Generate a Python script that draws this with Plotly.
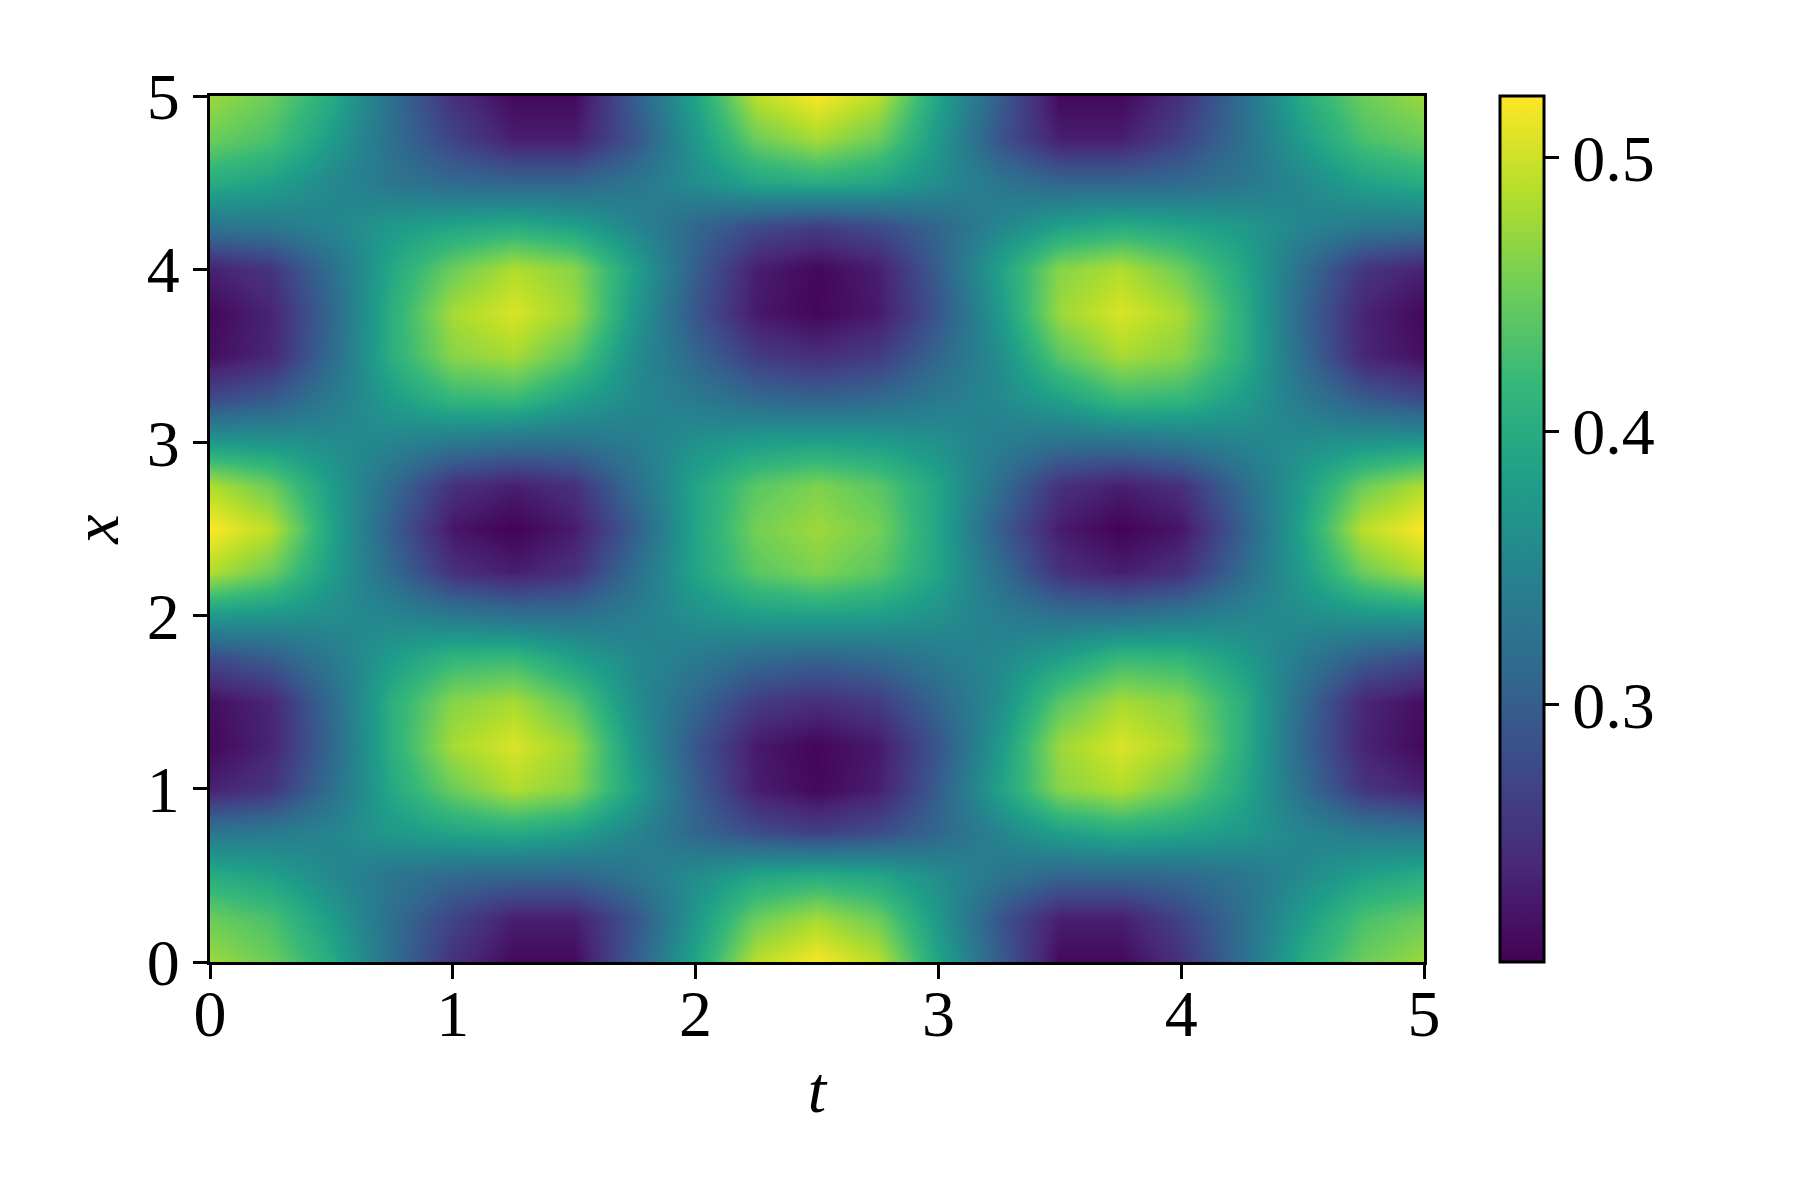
import plotly.graph_objects as go

t_values = [0, .25, .5, .75, 1, 1.25, 1.5, 1.75, 2, 2.25, 2.5, 2.75, 3, 3.25, 3.5, 3.75, 4, 4.25, 4.5, 4.75, 5]
x_values = [0, .25, .5, .75, 1, 1.25, 1.5, 1.75, 2, 2.25, 2.5, 2.75, 3, 3.25, 3.5, 3.75, 4, 4.25, 4.5, 4.75, 5]
tick_values = [0, 1, 2, 3, 4, 5]
colorbar_ticks = [0.3, 0.4, 0.5]

z_values = [
 [.475,.45,.40,.32,.25,.213,.213,.30,.39,.49,.52,.49,.39,.30,.213,.213,.25,.32,.40,.45,.475],
 [.45,.43,.38,.32,.27,.232,.232,.29,.375,.45,.48,.45,.375,.29,.232,.232,.27,.32,.38,.43,.45],
 [.40,.385,.355,.33,.315,.31,.31,.33,.36,.39,.40,.39,.36,.33,.31,.31,.315,.33,.355,.385,.40],
 [.33,.335,.35,.375,.39,.40,.385,.35,.31,.28,.265,.28,.31,.35,.385,.40,.39,.375,.35,.335,.33],
 [.235,.255,.32,.395,.45,.485,.465,.385,.30,.232,.212,.232,.30,.385,.465,.485,.45,.395,.32,.255,.235],
 [.212,.238,.31,.405,.48,.505,.475,.375,.29,.228,.21,.228,.29,.375,.475,.505,.48,.405,.31,.238,.212],
 [.218,.24,.315,.405,.465,.48,.44,.36,.31,.262,.248,.262,.31,.36,.44,.48,.465,.405,.315,.24,.218],
 [.278,.297,.335,.38,.415,.42,.385,.355,.335,.315,.305,.315,.335,.355,.385,.42,.415,.38,.335,.297,.278],
 [.375,.37,.36,.35,.335,.325,.325,.34,.365,.38,.385,.38,.365,.34,.325,.325,.335,.35,.36,.37,.375],
 [.485,.45,.38,.315,.25,.232,.25,.32,.39,.44,.46,.44,.39,.32,.25,.232,.25,.315,.38,.45,.485],
 [.522,.49,.39,.30,.225,.207,.23,.30,.39,.455,.475,.455,.39,.30,.23,.207,.225,.30,.39,.49,.522],
 [.485,.45,.38,.315,.25,.232,.25,.32,.39,.44,.46,.44,.39,.32,.25,.232,.25,.315,.38,.45,.485],
 [.375,.37,.36,.35,.335,.325,.325,.34,.365,.38,.385,.38,.365,.34,.325,.325,.335,.35,.36,.37,.375],
 [.278,.297,.335,.38,.415,.42,.385,.355,.335,.315,.305,.315,.335,.355,.385,.42,.415,.38,.335,.297,.278],
 [.218,.24,.315,.405,.465,.48,.44,.36,.31,.262,.248,.262,.31,.36,.44,.48,.465,.405,.315,.24,.218],
 [.212,.238,.31,.405,.48,.505,.475,.375,.29,.228,.21,.228,.29,.375,.475,.505,.48,.405,.31,.238,.212],
 [.235,.255,.32,.395,.45,.485,.465,.385,.30,.232,.212,.232,.30,.385,.465,.485,.45,.395,.32,.255,.235],
 [.33,.335,.35,.375,.39,.40,.385,.35,.31,.28,.265,.28,.31,.35,.385,.40,.39,.375,.35,.335,.33],
 [.40,.385,.355,.33,.315,.31,.31,.33,.36,.39,.40,.39,.36,.33,.31,.31,.315,.33,.355,.385,.40],
 [.45,.43,.38,.32,.27,.232,.232,.29,.375,.45,.48,.45,.375,.29,.232,.232,.27,.32,.38,.43,.45],
 [.475,.45,.40,.32,.25,.213,.213,.30,.39,.49,.52,.49,.39,.30,.213,.213,.25,.32,.40,.45,.475],
]

W, H = 1800, 1200
PAGE = 8
L, R, T, B = 210 - PAGE, 1424 - PAGE, 96 - PAGE, 962 - PAGE
FONT = "Liberation Serif"
tick_font = dict(family=FONT, size=66, color="black")

fig = go.Figure(go.Heatmap(
    x=t_values, y=x_values, z=z_values,
    zsmooth="best", colorscale="Viridis", zmin=0.206, zmax=0.5226,
    colorbar=dict(
        x=(1500 - PAGE) / W, xanchor="left", xref="container", xpad=0,
        y=0, yanchor="bottom", yref="paper", ypad=0,
        len=1, lenmode="fraction",
        thickness=44, thicknessmode="pixels",
        outlinecolor="black", outlinewidth=3,
        tickmode="array", tickvals=colorbar_ticks, ticktext=[f"{v:.1f}" for v in colorbar_ticks],
        ticks="outside", ticklen=14, tickwidth=3, tickcolor="black",
        tickfont=tick_font,
    ),
))

axis_common = dict(
    range=[0, 5], tickmode="array", tickvals=tick_values,
    ticktext=[str(v) for v in tick_values],
    ticks="outside", ticklen=14, tickwidth=3, tickcolor="black",
    showline=True, linecolor="black", linewidth=3, mirror=True,
    showgrid=False, zeroline=False, tickfont=tick_font, automargin=True,
)
fig.update_layout(
    width=W, height=H, paper_bgcolor="white", plot_bgcolor="white",
    margin=dict(l=L, r=W - R, t=T, b=H - B, autoexpand=False),
    font=dict(family=FONT),
    xaxis=dict(axis_common, ticklabelstandoff=-22,
               title=dict(text="<i>t</i>", font=dict(family=FONT, size=66, color="black"), standoff=17)),
    yaxis=dict(axis_common,
               title=dict(text="<i>x</i>", font=dict(family=FONT, size=66, color="black"), standoff=7)),
)
fig.write_html("out.html")
